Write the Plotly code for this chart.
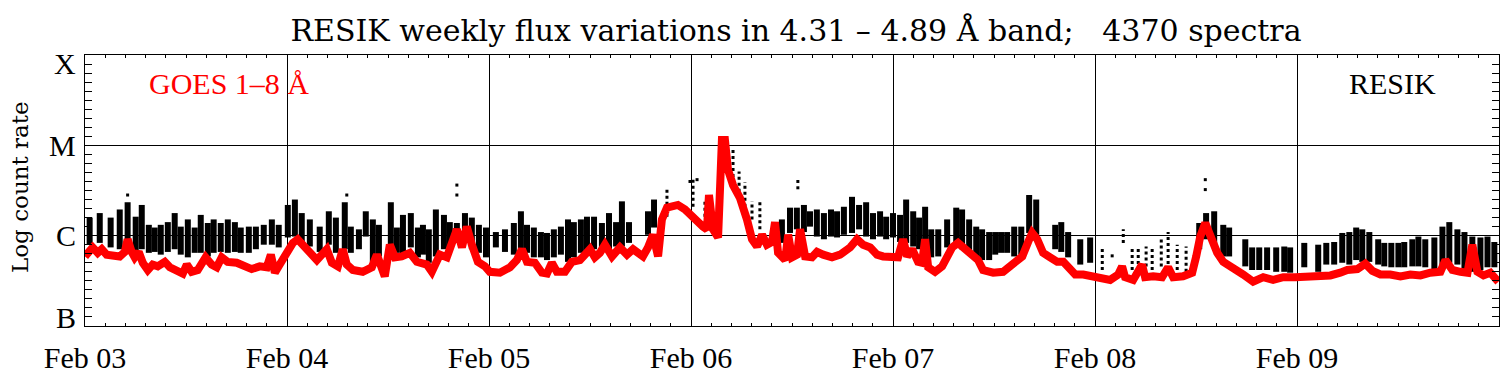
import plotly.graph_objects as go

# ---------------- data ----------------
day_ticks = [0, 1, 2, 3, 4, 5, 6]
day_labels = ["Feb 03", "Feb 04", "Feb 05", "Feb 06", "Feb 07", "Feb 08", "Feb 09"]
class_levels = [-7, -6, -5, -4]
class_names = ["B", "C", "M", "X"]

# GOES 1-8 A flux, log10 (days since Feb 03 00:00)
goes_t = [0.000, 0.038, 0.063, 0.083, 0.107, 0.137, 0.172, 0.197, 0.211, 0.231, 0.246, 0.266, 0.286, 0.311,
          0.335, 0.360, 0.395, 0.420, 0.454, 0.484, 0.504, 0.528, 0.558, 0.597, 0.627, 0.652, 0.677, 0.706,
          0.751, 0.791, 0.825, 0.865, 0.900, 0.920, 0.940, 0.964, 0.999, 1.029, 1.053, 1.078, 1.113, 1.148,
          1.197, 1.222, 1.252, 1.276, 1.296, 1.326, 1.375, 1.420, 1.445, 1.469, 1.484, 1.509, 1.534, 1.568,
          1.608, 1.643, 1.692, 1.717, 1.757, 1.791, 1.841, 1.866, 1.890, 1.915, 1.945, 1.980, 2.004, 2.054,
          2.104, 2.138, 2.163, 2.188, 2.227, 2.262, 2.287, 2.311, 2.336, 2.376, 2.410, 2.450, 2.500, 2.524,
          2.549, 2.574, 2.609, 2.648, 2.683, 2.713, 2.762, 2.787, 2.812, 2.837, 2.856, 2.881, 2.911, 2.935,
          2.970, 3.005, 3.030, 3.059, 3.079, 3.089, 3.109, 3.134, 3.144, 3.153, 3.168, 3.183, 3.208, 3.242,
          3.277, 3.302, 3.327, 3.352, 3.376, 3.401, 3.416, 3.431, 3.466, 3.481, 3.500, 3.525, 3.540, 3.565,
          3.599, 3.624, 3.654, 3.698, 3.738, 3.788, 3.822, 3.852, 3.887, 3.921, 3.951, 3.986, 4.025, 4.050,
          4.070, 4.095, 4.124, 4.144, 4.159, 4.174, 4.208, 4.243, 4.268, 4.293, 4.322, 4.357, 4.392, 4.421,
          4.446, 4.496, 4.545, 4.595, 4.640, 4.669, 4.689, 4.714, 4.743, 4.778, 4.813, 4.843, 4.867, 4.902,
          4.942, 4.986, 5.026, 5.075, 5.115, 5.134, 5.149, 5.189, 5.233, 5.248, 5.288, 5.332, 5.362, 5.387,
          5.436, 5.481, 5.501, 5.521, 5.546, 5.570, 5.605, 5.635, 5.660, 5.694, 5.734, 5.783, 5.833, 5.882,
          5.932, 5.991, 6.016, 6.066, 6.115, 6.165, 6.214, 6.249, 6.299, 6.338, 6.373, 6.413, 6.462, 6.512,
          6.561, 6.611, 6.660, 6.710, 6.735, 6.769, 6.809, 6.844, 6.868, 6.893, 6.923, 6.957, 6.997]
goes_v = [-6.23, -6.13, -6.19, -6.15, -6.21, -6.22, -6.23, -6.18, -6.04, -6.18, -6.24, -6.18, -6.30, -6.38,
          -6.32, -6.34, -6.29, -6.35, -6.38, -6.42, -6.32, -6.40, -6.38, -6.24, -6.32, -6.35, -6.24, -6.29,
          -6.30, -6.33, -6.37, -6.34, -6.35, -6.21, -6.41, -6.32, -6.18, -6.08, -6.04, -6.10, -6.18, -6.27,
          -6.15, -6.30, -6.34, -6.15, -6.32, -6.38, -6.40, -6.35, -6.21, -6.40, -6.45, -6.10, -6.24, -6.23,
          -6.19, -6.29, -6.32, -6.40, -6.21, -6.24, -5.93, -6.13, -5.90, -6.10, -6.29, -6.34, -6.40, -6.41,
          -6.35, -6.27, -6.15, -6.29, -6.30, -6.41, -6.42, -6.30, -6.40, -6.40, -6.29, -6.27, -6.15, -6.24,
          -6.19, -6.10, -6.23, -6.13, -6.21, -6.15, -6.23, -6.13, -5.99, -6.23, -5.82, -5.69, -5.68, -5.66,
          -5.71, -5.79, -5.85, -5.90, -5.93, -5.55, -5.93, -6.02, -5.46, -4.94, -4.94, -5.27, -5.44, -5.58,
          -5.82, -6.04, -6.12, -5.99, -6.10, -6.07, -5.85, -6.19, -6.27, -5.99, -6.24, -6.21, -5.93, -6.23,
          -6.24, -6.18, -6.21, -6.24, -6.21, -6.13, -6.04, -6.10, -6.13, -6.21, -6.23, -6.24, -6.24, -6.04,
          -6.23, -6.15, -6.29, -6.30, -6.04, -6.35, -6.40, -6.34, -6.23, -6.13, -6.08, -6.15, -6.23, -6.27,
          -6.38, -6.41, -6.40, -6.32, -6.23, -6.07, -5.97, -6.04, -6.19, -6.24, -6.29, -6.29, -6.35, -6.43,
          -6.43, -6.45, -6.46, -6.49, -6.43, -6.34, -6.46, -6.49, -6.32, -6.46, -6.45, -6.46, -6.35, -6.46,
          -6.45, -6.41, -6.23, -6.01, -5.86, -6.01, -6.19, -6.29, -6.32, -6.38, -6.43, -6.51, -6.46, -6.49,
          -6.46, -6.46, -6.46, -6.46, -6.45, -6.44, -6.41, -6.38, -6.37, -6.31, -6.39, -6.43, -6.43, -6.45,
          -6.43, -6.44, -6.41, -6.40, -6.27, -6.38, -6.40, -6.41, -6.10, -6.40, -6.44, -6.41, -6.51]

# RESIK count-rate spread per orbit chunk (log scale, GOES-class units)
resik_t = [0.023, 0.073, 0.127, 0.172, 0.211, 0.251, 0.281, 0.316, 0.345, 0.375, 0.410, 0.444, 0.474, 0.509,
           0.543, 0.573, 0.608, 0.637, 0.672, 0.707, 0.742, 0.771, 0.811, 0.846, 0.885, 0.925, 0.959, 1.004,
           1.039, 1.073, 1.113, 1.162, 1.207, 1.242, 1.286, 1.316, 1.356, 1.390, 1.425, 1.455, 1.514, 1.544,
           1.574, 1.613, 1.648, 1.673, 1.702, 1.737, 1.777, 1.806, 1.841, 1.881, 1.915, 1.950, 1.985, 2.034,
           2.079, 2.123, 2.158, 2.188, 2.222, 2.257, 2.287, 2.321, 2.356, 2.391, 2.420, 2.455, 2.485, 2.520,
           2.559, 2.594, 2.629, 2.658, 2.693, 2.787, 2.817,
           3.450, 3.490, 3.524, 3.559, 3.589, 3.623, 3.658, 3.693, 3.723, 3.757, 3.797, 3.832, 3.867, 3.901,
           3.936, 3.966, 4.000, 4.035, 4.065, 4.100, 4.129, 4.159, 4.189, 4.224, 4.268, 4.313, 4.342, 4.377,
           4.412, 4.441, 4.476, 4.506, 4.535, 4.565, 4.600, 4.635, 4.674, 4.709, 4.803, 4.833, 4.867, 4.927,
           4.976,
           5.516, 5.550, 5.590, 5.635, 5.664, 5.744, 5.778, 5.813, 5.852, 5.897, 5.937, 5.966, 6.036, 6.105,
           6.145, 6.184, 6.224, 6.259, 6.293, 6.323, 6.358, 6.402, 6.432, 6.467, 6.502, 6.531, 6.571, 6.601,
           6.635, 6.680, 6.720, 6.754, 6.794, 6.829, 6.868, 6.908, 6.943, 6.977]
resik_hi = [-5.80, -5.75, -5.80, -5.71, -5.63, -5.79, -5.66, -5.88, -5.91, -5.88, -5.85, -5.75, -5.90, -5.82,
            -5.91, -5.77, -5.86, -5.82, -5.86, -5.82, -5.85, -5.91, -5.90, -5.90, -5.88, -5.82, -5.88, -5.66,
            -5.60, -5.75, -5.82, -5.90, -5.73, -5.80, -5.63, -5.90, -5.93, -5.73, -5.82, -5.88, -5.63, -5.91,
            -5.77, -5.75, -5.91, -5.88, -5.93, -5.71, -5.77, -5.85, -5.86, -5.75, -5.80, -5.88, -5.91, -5.96,
            -5.93, -5.86, -5.73, -5.88, -5.91, -5.96, -5.97, -5.93, -5.90, -5.82, -5.85, -5.82, -5.79, -5.79,
            -5.86, -5.75, -5.85, -5.62, -5.85, -5.73, -5.60,
            -5.82, -5.69, -5.69, -5.66, -5.73, -5.71, -5.75, -5.71, -5.73, -5.68, -5.57, -5.66, -5.63, -5.75,
            -5.73, -5.79, -5.75, -5.77, -5.60, -5.73, -5.80, -5.68, -5.93, -5.93, -5.82, -5.69, -5.71, -5.82,
            -5.90, -5.93, -5.96, -5.96, -5.96, -5.96, -5.90, -5.90, -5.55, -5.60, -5.88, -5.85, -5.96, -6.04,
            -6.02,
            -5.86, -5.75, -5.73, -5.88, -5.91, -6.04, -6.13, -6.13, -6.13, -6.13, -6.12, -6.13, -6.08, -6.10,
            -6.08, -6.07, -5.97, -5.96, -5.91, -5.93, -5.96, -6.04, -6.08, -6.08, -6.08, -6.07, -6.04, -6.01,
            -6.04, -6.02, -5.90, -5.85, -5.93, -5.96, -6.01, -6.02, -6.01, -6.07]
resik_lo = [-6.10, -6.08, -6.13, -6.15, -6.19, -6.18, -6.15, -6.19, -6.18, -6.21, -6.18, -6.15, -6.21, -6.24,
            -6.19, -6.19, -6.23, -6.19, -6.18, -6.19, -6.18, -6.19, -6.19, -6.15, -6.10, -6.10, -6.13, -6.02,
            -6.01, -6.07, -6.12, -6.18, -6.10, -6.19, -6.15, -6.19, -6.15, -6.01, -6.29, -6.23, -6.15, -6.19,
            -6.21, -6.13, -6.24, -6.21, -6.30, -6.23, -6.15, -6.12, -6.04, -6.04, -6.15, -6.19, -6.24, -6.13,
            -6.18, -6.21, -6.18, -6.19, -6.24, -6.24, -6.27, -6.24, -6.21, -6.29, -6.24, -6.19, -6.18, -6.15,
            -6.15, -6.15, -6.12, -6.12, -6.08, -5.99, -5.91,
            -6.08, -5.97, -5.93, -5.96, -5.90, -6.01, -6.04, -6.01, -6.02, -5.99, -5.97, -5.93, -6.01, -6.04,
            -6.01, -6.04, -6.02, -6.07, -6.08, -6.12, -6.15, -6.19, -6.24, -6.23, -6.13, -6.08, -6.15, -6.19,
            -6.23, -6.27, -6.27, -6.21, -6.19, -6.19, -6.23, -6.21, -5.97, -5.99, -6.15, -6.18, -6.24, -6.32,
            -6.30,
            -6.15, -6.04, -6.13, -6.23, -6.23, -6.34, -6.38, -6.38, -6.38, -6.40, -6.40, -6.41, -6.35, -6.40,
            -6.32, -6.32, -6.30, -6.32, -6.27, -6.29, -6.29, -6.32, -6.34, -6.35, -6.35, -6.35, -6.34, -6.34,
            -6.35, -6.38, -6.35, -6.30, -6.32, -6.38, -6.40, -6.38, -6.35, -6.35]

# sparsely sampled RESIK chunks (Feb 06 flare, quiet Feb 08)
sparse_t = [2.881, 3.010, 3.069, 3.134, 3.208, 3.238, 3.267, 3.302, 3.341,
            5.036, 5.085, 5.140, 5.184, 5.214, 5.253, 5.283, 5.328, 5.362, 5.407, 5.451]
sparse_hi = [-5.47, -5.38, -5.60, -5.57, -5.03, -5.29, -5.41, -5.62, -5.62,
             -6.12, -6.18, -5.93, -6.12, -6.12, -6.12, -6.12, -6.04, -5.96, -6.10, -6.12]
sparse_lo = [-5.79, -5.68, -5.79, -5.88, -5.35, -5.58, -5.68, -5.82, -5.93,
             -6.38, -6.24, -6.08, -6.38, -6.38, -6.34, -6.38, -6.34, -6.38, -6.38, -6.40]

# isolated RESIK points above the bulk
dot_t = [1.841, 1.841, 2.995, 3.030, 3.529, 3.529, 5.546, 5.546, 1.296, 0.211]
dot_v = [-5.44, -5.55, -5.40, -5.38, -5.40, -5.47, -5.38, -5.49, -5.55, -5.55]

# ---------------- figure ----------------
FONT = "Liberation Serif, Times New Roman, serif"
WIDE = "DejaVu Serif, serif"


def segments(t, lo, hi):
    xs, ys = [], []
    for a, b, c in zip(t, lo, hi):
        xs += [a, a, None]
        ys += [b, c, None]
    return xs, ys


fig = go.Figure()

sx, sy = segments(resik_t, resik_lo, resik_hi)
fig.add_trace(go.Scatter(x=sx, y=sy, mode="lines", line=dict(color="black", width=6),
                         hoverinfo="skip", showlegend=False))
px_, py_ = segments(sparse_t, sparse_lo, sparse_hi)
fig.add_trace(go.Scatter(x=px_, y=py_, mode="lines", line=dict(color="black", width=3, dash="dot"),
                         hoverinfo="skip", showlegend=False))
fig.add_trace(go.Scatter(x=dot_t, y=dot_v, mode="markers",
                         marker=dict(color="black", size=3, symbol="square"),
                         hoverinfo="skip", showlegend=False))
fig.add_trace(go.Scatter(x=goes_t, y=goes_v, mode="lines", line=dict(color="#ff0000", width=8),
                         hoverinfo="skip", showlegend=False))

# the page body carries an 8px browser margin: the figure is sized to fit the window
fig.update_layout(
    width=1504, height=367,
    margin=dict(l=77, r=13, t=47, b=49, autoexpand=False),
    paper_bgcolor="white", plot_bgcolor="white",
    font=dict(family=FONT, color="black", size=30),
    title=dict(text="RESIK weekly flux variations in 4.31 \u2013 4.89 \u00c5 band;\u00a0\u00a0\u00a04370 spectra",
               x=(796 - 8) / 1504, xref="container", xanchor="center",
               y=1 - (30 - 8) / 367, yref="container", yanchor="middle",
               font=dict(family=WIDE, size=30, color="black")),
)

fig.update_xaxes(
    range=[0, 7], tickvals=day_ticks, ticktext=day_labels, automargin=False,
    showgrid=True, gridcolor="black", gridwidth=1,
    showline=True, linecolor="black", linewidth=1, mirror="allticks",
    ticks="inside", ticklen=3, tickcolor="black",
    minor=dict(dtick=0.1, tick0=0, ticks="inside", ticklen=3, tickcolor="black", showgrid=False),
    tickfont=dict(family=FONT, size=30), ticklabelstandoff=5,
    zeroline=False,
)
fig.update_yaxes(
    range=[class_levels[0], class_levels[-1]], tickvals=class_levels[1:-1], automargin=False,
    showticklabels=False,
    showgrid=True, gridcolor="black", gridwidth=1,
    showline=True, linecolor="black", linewidth=1, mirror="allticks",
    ticks="inside", ticklen=7, tickcolor="black",
    minor=dict(dtick=0.1, tick0=class_levels[0], ticks="inside", ticklen=7, tickcolor="black", showgrid=False),
    zeroline=False,
)

# GOES class labels on the y axis
shifts = [9, 0, 0, -8]
for lev, name, sh in zip(class_levels, class_names, shifts):
    fig.add_annotation(x=0, xref="paper", xanchor="right", xshift=-7,
                       y=lev, yref="y", yanchor="middle", yshift=sh,
                       text=name, showarrow=False, font=dict(family=FONT, size=30, color="black"))

fig.add_annotation(x=0, xref="paper", xanchor="center", xshift=-65, y=1 - (187 - 55) / 271, yref="paper",
                   yanchor="middle", text="Log count rate", textangle=-90, showarrow=False,
                   font=dict(family=WIDE, size=23, color="black"))
fig.add_annotation(x=(147 - 85) / 1414, xref="paper", xanchor="left", y=1 - (83 - 55) / 271, yref="paper",
                   yanchor="middle", text="GOES 1\u20138 \u00c5", showarrow=False,
                   font=dict(family=FONT, size=30, color="#ff0000"))
fig.add_annotation(x=(1438 - 85) / 1414, xref="paper", xanchor="right", y=1 - (83 - 55) / 271, yref="paper",
                   yanchor="middle", text="RESIK", showarrow=False,
                   font=dict(family=FONT, size=30, color="black"))

fig.write_html("out.html")
